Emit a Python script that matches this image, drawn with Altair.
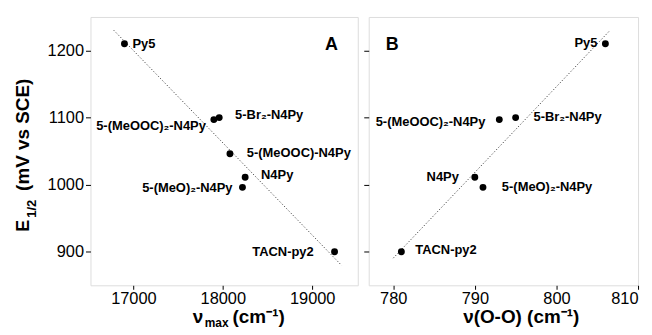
import altair as alt
import pandas as pd

FONT = "Liberation Sans"

# ---- data ----
labels_a = ["Py5", "5-(MeOOC)₂-N4Py", "5-Br₂-N4Py", "5-(MeOOC)-N4Py", "N4Py", "5-(MeO)₂-N4Py", "TACN-py2"]
nu_max = [16900, 17900, 17960, 18080, 18250, 18220, 19250]
e_half_a = [1210, 1097, 1100, 1046, 1011, 996, 900]

labels_b = ["Py5", "5-(MeOOC)₂-N4Py", "5-Br₂-N4Py", "N4Py", "5-(MeO)₂-N4Py", "TACN-py2"]
nu_oo = [806, 793, 795, 790, 791, 781]
e_half_b = [1210, 1097, 1100, 1011, 996, 900]

x_ticks_a = [17000, 18000, 19000]
x_ticks_b = [780, 790, 800, 810]
y_ticks = [900, 1000, 1100, 1200]

# ---- label placement (style) ----
place_a = {
    "Py5": ("left", 8, 0),
    "5-(MeOOC)₂-N4Py": ("right", -8, 6),
    "5-Br₂-N4Py": ("left", 16, -3),
    "5-(MeOOC)-N4Py": ("left", 17, -1),
    "N4Py": ("left", 16, -2),
    "5-(MeO)₂-N4Py": ("right", -10, 1),
    "TACN-py2": ("right", -21, 0),
}
place_b = {
    "Py5": ("right", -8, -1),
    "5-(MeOOC)₂-N4Py": ("right", -14, 2),
    "5-Br₂-N4Py": ("left", 18, -1),
    "N4Py": ("right", -16, 0),
    "5-(MeO)₂-N4Py": ("left", 19, 0),
    "TACN-py2": ("left", 14, -2),
}

Y_DOMAIN = [850, 1250]
H = 270


def panel(df, xdom, xticks, fit_extent, place, width, show_ylabels, letter, extra):
    x = alt.X("x:Q", scale=alt.Scale(domain=xdom, nice=False, zero=False),
              axis=alt.Axis(values=xticks, title=None, grid=False, domain=False,
                            tickSize=4, tickColor="black", labelPadding=1,
                            labelFont=FONT, labelFontSize=16.5, labelColor="black",
                            format="d"))
    y = alt.Y("y:Q", scale=alt.Scale(domain=Y_DOMAIN, nice=False, zero=False),
              axis=alt.Axis(values=y_ticks, title=None, grid=False, domain=False,
                            tickSize=5, tickColor="black", labelPadding=2,
                            labels=show_ylabels,
                            labelFont=FONT, labelFontSize=16.5, labelColor="black",
                            format="d"))
    base = alt.Chart(df)
    fit = base.transform_regression("x", "y", extent=fit_extent).mark_line(
        color="#444444", strokeDash=[1.2, 2], strokeWidth=1
    ).encode(x=x, y=y)
    pts = base.mark_circle(size=48, color="black", opacity=1).encode(x=x, y=y)
    texts = []
    for lab, (al, dx, dy) in place.items():
        texts.append(
            base.transform_filter(alt.FieldEqualPredicate(field="label", equal=lab))
            .mark_text(align=al, dx=dx, dy=dy, baseline="middle", font=FONT,
                       fontWeight="bold", fontSize=13, color="black")
            .encode(x=x, y=y, text="label:N")
        )
    one = pd.DataFrame({"k": [0]})
    lt = alt.Chart(one).mark_text(align="left", baseline="alphabetic", font=FONT,
                                  fontWeight="bold", fontSize=18, color="black").encode(
        x=alt.value(letter[1]), y=alt.value(33), text=alt.value(letter[0]))
    layers = [fit, pts] + texts + [lt] + [
        alt.Chart(one).mark_text(align=a, baseline="alphabetic", font=FONT,
                                 fontWeight="bold", fontSize=fs, angle=ang, color="black").encode(
            x=alt.value(px), y=alt.value(py), text=alt.value(t))
        for (t, px, py, fs, ang, a) in extra
    ]
    return alt.layer(*layers).properties(width=width, height=H)


extra_a = [
    ("ν", 103, 308, 19, 0, "left"),
    ("max", 115, 312, 12, 0, "left"),
    ("(cm⁻¹)", 143, 308, 19, 0, "left"),
    ("E", -62, 216, 18, 270, "left"),
    ("1/2", -55, 202, 13, 270, "left"),
    ("(mV vs SCE)", -62, 175, 19, 270, "left"),
]
extra_b = [
    ("ν(O-O) (cm⁻¹)", 95, 308, 19, 0, "left"),
]

df_a = pd.DataFrame({"x": nu_max, "y": e_half_a, "label": labels_a})
df_b = pd.DataFrame({"x": nu_oo, "y": e_half_b, "label": labels_b})

pa = panel(df_a, [16520, 19510], x_ticks_a, [16780, 19330], place_a, 269, True, ("A", 236), extra_a)
pb = panel(df_b, [777, 810], x_ticks_b, [780, 806.5], place_b, 271, False, ("B", 17), extra_b)

chart = alt.hconcat(pa, pb, spacing=4).properties(
    padding={"left": 5, "top": 7, "right": 5, "bottom": 5}
).configure_view(stroke="black", strokeWidth=1.2).configure(background="white")

chart.save("out.html", embed_options={"renderer": "svg", "actions": False})
